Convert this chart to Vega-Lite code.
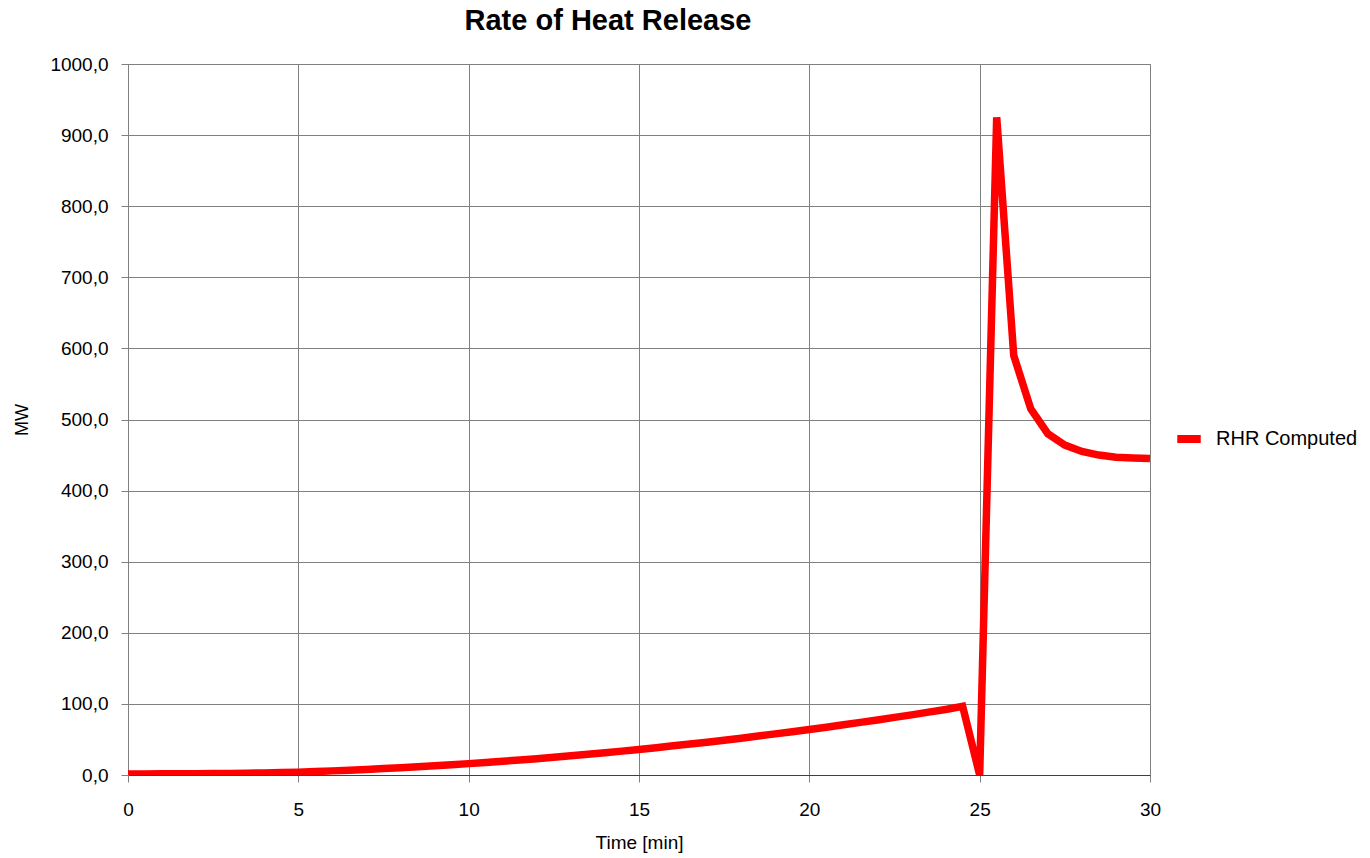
{
  "$schema": "https://vega.github.io/schema/vega-lite/v6.json",
  "autosize": "none",
  "width": 1022,
  "height": 711,
  "padding": {"left": 128, "top": 64, "right": 220, "bottom": 83},
  "background": "white",
  "title": {
    "text": "Rate of Heat Release",
    "font": "Liberation Sans",
    "fontSize": 29,
    "fontWeight": "bold",
    "color": "black",
    "anchor": "middle",
    "dx": -31,
    "offset": 19
  },
  "config": {
    "view": {"stroke": "#808080", "strokeWidth": 1},
    "font": "Liberation Sans"
  },
  "data": {
    "values": [
      {"t": 0, "v": 1.5, "s": "RHR Computed"},
      {"t": 0.5, "v": 1.5, "s": "RHR Computed"},
      {"t": 1, "v": 1.6, "s": "RHR Computed"},
      {"t": 1.5, "v": 1.7, "s": "RHR Computed"},
      {"t": 2, "v": 1.8, "s": "RHR Computed"},
      {"t": 2.5, "v": 2.0, "s": "RHR Computed"},
      {"t": 3, "v": 2.2, "s": "RHR Computed"},
      {"t": 3.5, "v": 2.5, "s": "RHR Computed"},
      {"t": 4, "v": 2.9, "s": "RHR Computed"},
      {"t": 4.5, "v": 3.4, "s": "RHR Computed"},
      {"t": 5, "v": 4.0, "s": "RHR Computed"},
      {"t": 5.5, "v": 4.8, "s": "RHR Computed"},
      {"t": 6, "v": 5.8, "s": "RHR Computed"},
      {"t": 6.5, "v": 6.8, "s": "RHR Computed"},
      {"t": 7, "v": 7.8, "s": "RHR Computed"},
      {"t": 7.5, "v": 9.0, "s": "RHR Computed"},
      {"t": 8, "v": 10.2, "s": "RHR Computed"},
      {"t": 8.5, "v": 11.6, "s": "RHR Computed"},
      {"t": 9, "v": 13.0, "s": "RHR Computed"},
      {"t": 9.5, "v": 14.4, "s": "RHR Computed"},
      {"t": 10, "v": 16.0, "s": "RHR Computed"},
      {"t": 10.5, "v": 17.6, "s": "RHR Computed"},
      {"t": 11, "v": 19.4, "s": "RHR Computed"},
      {"t": 11.5, "v": 21.2, "s": "RHR Computed"},
      {"t": 12, "v": 23.0, "s": "RHR Computed"},
      {"t": 12.5, "v": 25.0, "s": "RHR Computed"},
      {"t": 13, "v": 27.0, "s": "RHR Computed"},
      {"t": 13.5, "v": 29.2, "s": "RHR Computed"},
      {"t": 14, "v": 31.4, "s": "RHR Computed"},
      {"t": 14.5, "v": 33.6, "s": "RHR Computed"},
      {"t": 15, "v": 36.0, "s": "RHR Computed"},
      {"t": 15.5, "v": 38.4, "s": "RHR Computed"},
      {"t": 16, "v": 41.0, "s": "RHR Computed"},
      {"t": 16.5, "v": 43.6, "s": "RHR Computed"},
      {"t": 17, "v": 46.2, "s": "RHR Computed"},
      {"t": 17.5, "v": 49.0, "s": "RHR Computed"},
      {"t": 18, "v": 51.8, "s": "RHR Computed"},
      {"t": 18.5, "v": 54.8, "s": "RHR Computed"},
      {"t": 19, "v": 57.8, "s": "RHR Computed"},
      {"t": 19.5, "v": 60.8, "s": "RHR Computed"},
      {"t": 20, "v": 64.0, "s": "RHR Computed"},
      {"t": 20.5, "v": 67.2, "s": "RHR Computed"},
      {"t": 21, "v": 70.6, "s": "RHR Computed"},
      {"t": 21.5, "v": 74.0, "s": "RHR Computed"},
      {"t": 22, "v": 77.4, "s": "RHR Computed"},
      {"t": 22.5, "v": 81.0, "s": "RHR Computed"},
      {"t": 23, "v": 84.6, "s": "RHR Computed"},
      {"t": 23.5, "v": 88.4, "s": "RHR Computed"},
      {"t": 24, "v": 92.2, "s": "RHR Computed"},
      {"t": 24.5, "v": 96.5, "s": "RHR Computed"},
      {"t": 25, "v": 0, "s": "RHR Computed"},
      {"t": 25.5, "v": 925, "s": "RHR Computed"},
      {"t": 26, "v": 590, "s": "RHR Computed"},
      {"t": 26.5, "v": 515, "s": "RHR Computed"},
      {"t": 27, "v": 480, "s": "RHR Computed"},
      {"t": 27.5, "v": 464, "s": "RHR Computed"},
      {"t": 28, "v": 455, "s": "RHR Computed"},
      {"t": 28.5, "v": 450, "s": "RHR Computed"},
      {"t": 29, "v": 447, "s": "RHR Computed"},
      {"t": 29.5, "v": 446, "s": "RHR Computed"},
      {"t": 30, "v": 445, "s": "RHR Computed"}
    ]
  },
  "mark": {"type": "line", "strokeWidth": 7.5, "clip": true},
  "encoding": {
    "x": {
      "field": "t",
      "type": "quantitative",
      "scale": {"domain": [0, 30], "nice": false, "zero": false},
      "axis": {
        "title": "Time [min]",
        "titleFont": "Liberation Sans",
        "titleFontSize": 19,
        "titleFontWeight": "normal",
        "titleColor": "black",
        "titlePadding": 14,
        "values": [0, 5, 10, 15, 20, 25, 30],
        "labelFont": "Liberation Sans",
        "labelFontSize": 19,
        "labelColor": "black",
        "labelPadding": 18,
        "labelFlush": false,
        "grid": true,
        "gridColor": "#808080",
        "gridWidth": 1,
        "gridOpacity": 1,
        "domainColor": "#404040",
        "tickColor": "#808080",
        "tickSize": 7,
        "tickOffset": 0
      }
    },
    "y": {
      "field": "v",
      "type": "quantitative",
      "scale": {"domain": [0, 1000], "nice": false},
      "axis": {
        "title": "MW",
        "titleFont": "Liberation Sans",
        "titleFontSize": 18,
        "titleFontWeight": "normal",
        "titleColor": "black",
        "titlePadding": 18,
        "values": [0, 100, 200, 300, 400, 500, 600, 700, 800, 900, 1000],
        "labelExpr": "replace(format(datum.value, '.1f'), '.', ',')",
        "labelFont": "Liberation Sans",
        "labelFontSize": 19,
        "labelColor": "black",
        "labelPadding": 13,
        "labelFlush": false,
        "grid": true,
        "gridColor": "#808080",
        "gridWidth": 1,
        "gridOpacity": 1,
        "domainColor": "#808080",
        "tickColor": "#808080",
        "tickSize": 7
      }
    },
    "color": {
      "field": "s",
      "type": "nominal",
      "scale": {"range": ["#FF0000"]},
      "legend": {
        "title": null,
        "orient": "none",
        "legendX": 1045,
        "legendY": 359,
        "symbolType": "stroke",
        "symbolStrokeWidth": 8,
        "symbolSize": 550,
        "labelFont": "Liberation Sans",
        "labelFontSize": 20,
        "labelColor": "black",
        "labelOffset": 11
      }
    }
  }
}
